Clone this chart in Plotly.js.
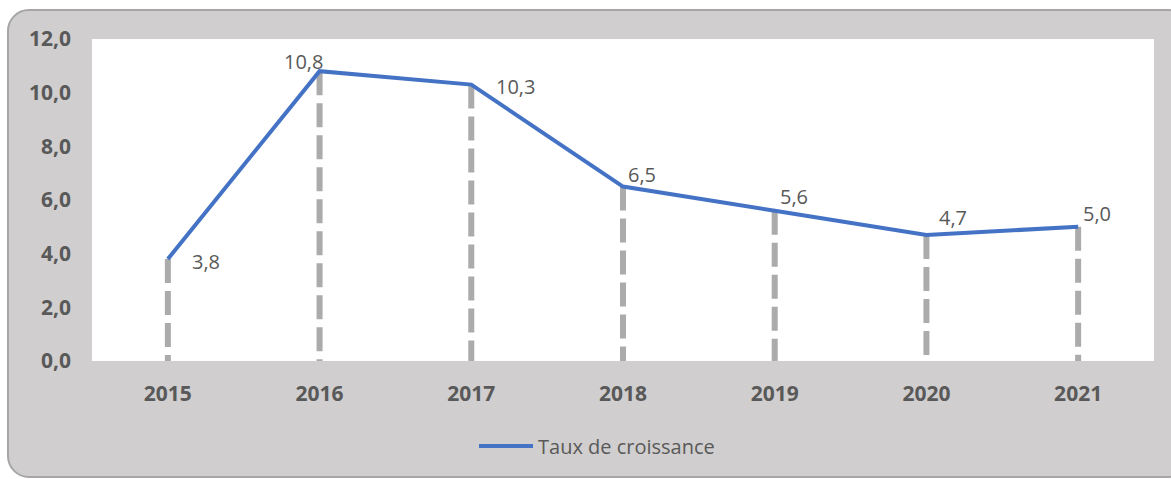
<!DOCTYPE html>
<html>
<head>
<meta charset="utf-8">
<script src="https://cdn.plot.ly/plotly-3.0.1.min.js"></script>
<style>
  html, body { margin:0; padding:0; width:1171px; height:479px; overflow:hidden; background:#ffffff; }
  #frame { position:absolute; left:7px; top:9px; width:1180px; height:465px;
           background:#D0CECE; border:2px solid #A6A6A6; border-radius:22px; }
  #chart { position:absolute; left:0; top:0; width:1171px; height:479px; }
</style>
</head>
<body>
<div id="frame"></div>
<div id="chart"></div>
<script>
const years = ['2015','2016','2017','2018','2019','2020','2021'];
const growth = [3.8, 10.8, 10.3, 6.5, 5.6, 4.7, 5.0];
const seriesName = 'Taux de croissance';
const yTicks = [0, 2, 4, 6, 8, 10, 12];

const fmt = v => v.toFixed(1).replace('.', ',');

// drop lines built from the data
const dx = [], dy = [];
years.forEach((yr, i) => { dx.push(yr, yr, null); dy.push(growth[i], 0, null); });

const dropTrace = {
  x: dx, y: dy, type: 'scatter', mode: 'lines',
  line: { color: '#ABABAB', width: 6, dash: '24px,8px' },
  hoverinfo: 'skip', showlegend: false, connectgaps: false
};
const lineTrace = {
  x: years, y: growth, type: 'scatter', mode: 'lines', name: seriesName,
  line: { color: '#4472C4', width: 4 }, showlegend: false
};

// label placement (style)
const labelStyle = [
  { xanchor: 'left',   xshift: 22,  yshift: -2 },
  { xanchor: 'center', xshift: -16, yshift: 10 },
  { xanchor: 'left',   xshift: 23,  yshift: -2 },
  { xanchor: 'left',   xshift: 3,   yshift: 12 },
  { xanchor: 'left',   xshift: 3,   yshift: 14 },
  { xanchor: 'left',   xshift: 11,  yshift: 17 },
  { xanchor: 'left',   xshift: 3,   yshift: 13 }
];
const FONT = '"Open Sans", Lato, sans-serif';
// on a category axis, annotation x is the category's serial index
const annotations = years.map((yr, i) => Object.assign({
  x: i, y: growth[i], xref: 'x', yref: 'y', text: fmt(growth[i]),
  showarrow: false, yanchor: 'middle',
  font: { family: FONT, size: 20, color: '#595959' }
}, labelStyle[i]));

// manual legend
const legY = -(446 - 361) / 322;
annotations.push({
  xref: 'paper', yref: 'paper', x: (536 - 92) / 1062, y: legY,
  xanchor: 'left', yanchor: 'middle', showarrow: false, text: seriesName,
  font: { family: FONT, size: 20, color: '#595959' }
});
const shapes = [{
  type: 'line', xref: 'paper', yref: 'paper',
  x0: (479 - 92) / 1062, x1: (533 - 92) / 1062,
  y0: legY, y1: legY,
  line: { color: '#4472C4', width: 4 }
}];

const layout = {
  width: 1171, height: 479,
  margin: { l: 92, r: 17, t: 39, b: 118 },
  paper_bgcolor: 'rgba(0,0,0,0)', plot_bgcolor: '#FFFFFF',
  separators: ',.',
  showlegend: false,
  xaxis: {
    type: 'category', range: [-0.5, 6.5], showgrid: false, zeroline: false,
    showline: false, ticks: '', ticklabelstandoff: 18,
    tickfont: { family: FONT, size: 21, color: '#595959', weight: 'bold' }
  },
  yaxis: {
    range: [0, 12], tickvals: yTicks, tickformat: '.1f', showgrid: false,
    zeroline: false, showline: false, ticks: '', ticklabelstandoff: 20,
    tickfont: { family: FONT, size: 21, color: '#595959', weight: 'bold' }
  },
  annotations: annotations,
  shapes: shapes
};

Plotly.newPlot('chart', [dropTrace, lineTrace], layout, { displayModeBar: false, staticPlot: true });
</script>
</body>
</html>
